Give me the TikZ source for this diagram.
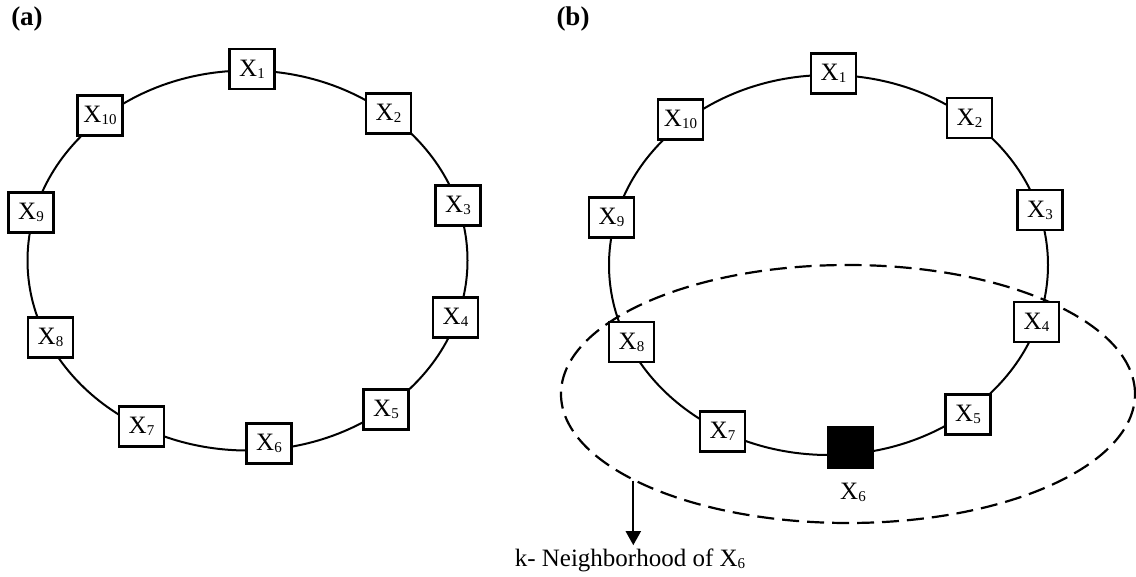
\documentclass[tikz,border=0pt]{standalone}
\usepackage{fontspec}
\setmainfont{Liberation Serif}
\usetikzlibrary{shapes.geometric,arrows.meta}
\newcommand\Xs[1]{X\raisebox{-2pt}{\fontsize{15}{15}\selectfont #1}}
\tikzset{
  ring/.style={line width=2pt},
  xbox/.style={draw, line width=2.4pt, fill=white, minimum width=45pt, minimum height=40pt, inner sep=0pt, font=\fontsize{25}{30}\selectfont},
  blackbox/.style={draw, line width=2.4pt, fill=black, minimum width=45pt, minimum height=40pt, inner sep=0pt},
  hoodstyle/.style={ellipse, draw, dash pattern=on 17pt off 8pt, line width=2.2pt, minimum width=574pt, minimum height=258pt, inner sep=0pt},
  txt/.style={font=\fontsize{25}{30}\selectfont, inner sep=0pt},
  panel/.style={font=\fontsize{27}{30}\selectfont\bfseries, inner sep=0pt}
}
\begin{document}
\begin{tikzpicture}[x=1pt,y=-1pt]
\useasboundingbox (0,0) rectangle (1136,577);
% panel labels
\node[panel] (la) at (27,19) {(a)};
\node[panel] (lb) at (573,19) {(b)};
% rings
\draw[ring] (247.5,260.5) ellipse [x radius=220pt, y radius=190pt];
\draw[ring] (828.5,265) ellipse [x radius=219.5pt, y radius=190pt];
% neighbourhood
\node[hoodstyle] (hood) at (848,394) {};
% left nodes
\node[xbox] (a1) at (252,69) {\Xs{1}};
\node[xbox] (a2) at (388.5,113.5) {\Xs{2}};
\node[xbox] (a3) at (458,205.5) {\Xs{3}};
\node[xbox] (a4) at (455.5,317.5) {\Xs{4}};
\node[xbox] (a5) at (386,409.5) {\Xs{5}};
\node[xbox] (a6) at (269,443.5) {\Xs{6}};
\node[xbox] (a7) at (141.5,426.5) {\Xs{7}};
\node[xbox] (a8) at (50.5,337.5) {\Xs{8}};
\node[xbox] (a9) at (31,212.5) {\Xs{9}};
\node[xbox] (a10) at (100,115.5) {\Xs{10}};
% right nodes
\node[xbox] (b1) at (833.5,73.5) {\Xs{1}};
\node[xbox] (b2) at (969.5,118) {\Xs{2}};
\node[xbox] (b3) at (1040,210) {\Xs{3}};
\node[xbox] (b4) at (1036.5,322) {\Xs{4}};
\node[xbox] (b5) at (968,414.5) {\Xs{5}};
\node[blackbox] (b6) at (850.5,447.5) {};
\node[txt] (b6l) at (853,492) {\Xs{6}};
\node[xbox] (b7) at (722.5,431.5) {\Xs{7}};
\node[xbox] (b8) at (631.5,342) {\Xs{8}};
\node[xbox] (b9) at (611.5,217.5) {\Xs{9}};
\node[xbox] (b10) at (680.5,119.5) {\Xs{10}};
% caption and arrow
\node[txt, anchor=base] (kn) at (630,566) {k- Neighborhood of \Xs{6}};
\draw[line width=2pt, -{Triangle[width=15pt,length=14pt]}, shorten >=3pt] (hood.202) -- (hood.202 |- kn.north);
\end{tikzpicture}
\end{document}
